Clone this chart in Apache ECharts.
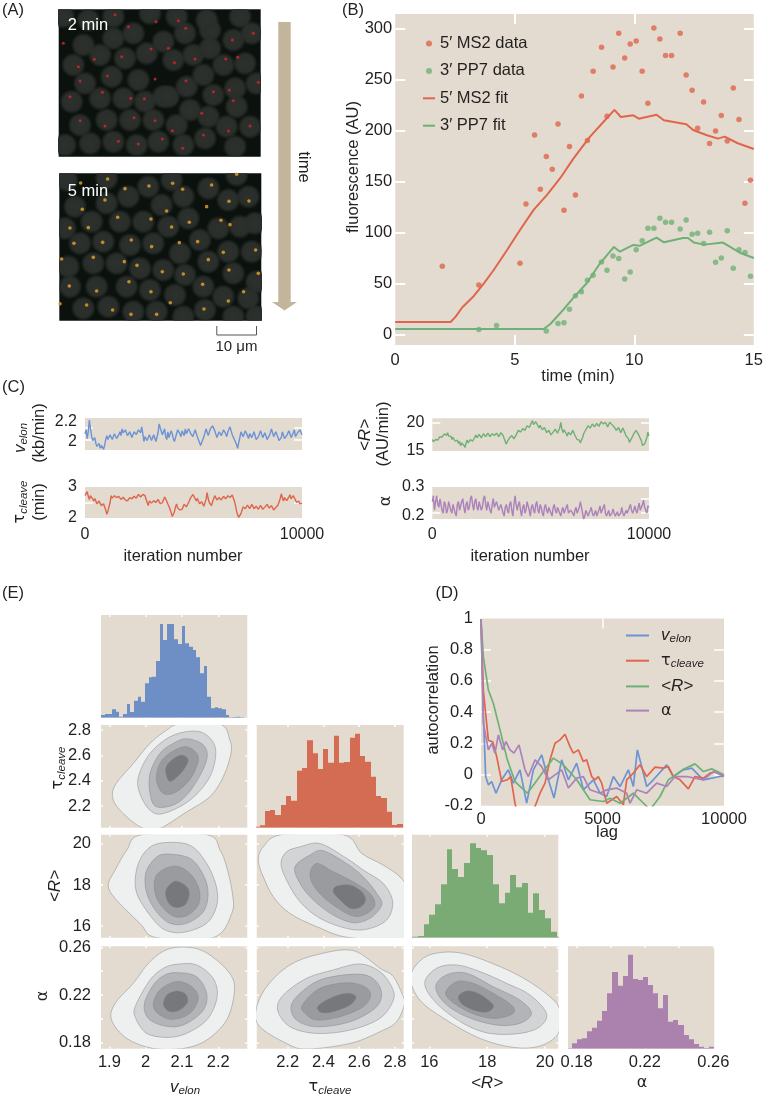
<!DOCTYPE html>
<html><head><meta charset="utf-8">
<script src="https://cdn.jsdelivr.net/npm/echarts@6/dist/echarts.min.js"></script>
<style>html,body{margin:0;padding:0;background:#fff}#c{width:766px;height:1097px}</style>
</head><body><div id="c"></div>
<script>
// ---------- Panel A: micrograph features, in image-position units ----------
const nuclei2min=[[220,195],[250,135],[340,115],[400,100],[300,165],[375,175],[440,160],[490,125],[555,100],[630,90],[720,50],[755,100],[700,120],[630,145],[580,165],[520,180],[670,195],[735,190],[610,225],[560,260],[490,290],[415,240],[335,230],[255,250],[215,305],[300,295],[370,295],[435,305],[505,290],[640,285],[705,265],[710,320],[570,330],[625,350],[530,375],[460,360],[390,360],[320,360],[240,375],[270,430],[195,435],[340,425],[410,435],[475,425],[550,435],[615,415],[680,380],[750,380],[705,440],[620,60],[530,50],[450,40],[340,50],[265,60],[770,250],[190,50]];
const spots2min=[[345,44],[468,65],[535,62],[385,80],[557,85],[760,100],[697,120],[190,130],[505,145],[453,147],[585,177],[523,188],[677,177],[713,172],[235,200],[283,178],[365,170],[322,228],[240,243],[465,237],[558,242],[775,247],[688,270],[640,275],[307,277],[210,290],[392,295],[433,296],[700,302],[605,340],[402,353],[465,362],[240,362],[315,378],[517,392],[487,417],[750,378],[685,393],[548,445],[355,424],[610,405],[415,432]];
const nuclei5min=[[225,620],[320,610],[385,590],[445,560],[515,540],[550,590],[625,565],[685,600],[745,590],[485,615],[275,665],[360,665],[430,665],[505,680],[565,655],[655,685],[720,680],[765,670],[195,685],[240,730],[310,725],[390,735],[460,730],[540,760],[600,720],[685,755],[755,755],[205,800],[280,790],[350,790],[420,805],[490,810],[555,825],[625,785],[700,820],[770,845],[210,860],[290,860],[380,860],[450,870],[525,885],[610,860],[670,890],[745,895],[250,925],[325,920],[400,935],[470,935],[550,950],[615,930],[700,950],[770,950],[320,535],[710,525],[200,540]];
const spots5min=[[242,549],[323,537],[375,566],[447,558],[518,550],[548,568],[635,555],[710,523],[687,604],[747,603],[315,600],[247,628],[500,633],[620,620],[353,652],[453,657],[568,667],[663,661],[690,674],[515,681],[210,684],[265,683],[222,730],[308,727],[394,720],[455,740],[538,728],[593,725],[670,757],[767,750],[185,777],[280,772],[373,785],[411,796],[487,815],[550,822],[625,779],[687,810],[775,820],[208,858],[290,873],[387,845],[453,875],[511,908],[608,853],[731,875],[685,903],[260,915],[338,930],[393,943],[470,943],[612,927],[180,911]];

// ---------- Panel B ----------
const ms2Data=[[1.97,66.7],[3.5,48.4],[5.22,69.6],[5.47,127.8],[5.83,195.4],[6.07,142.2],[6.32,174.2],[6.57,161.8],[6.81,206.2],[7.06,121.6],[7.29,184],[7.54,136.6],[7.79,233.7],[8.04,189.9],[8.28,257.8],[8.63,281.4],[8.86,213.7],[9.11,262.1],[9.35,295.1],[9.6,270.9],[9.83,284.6],[10.08,287.6],[10.33,257.8],[10.57,226.4],[10.82,300.3],[11.07,289.5],[11.31,273.2],[11.56,273.2],[11.92,295.1],[12.17,254.2],[12.42,239.2],[12.65,202],[12.9,227.8],[13.15,187],[13.4,199.3],[13.64,214.4],[13.89,189.5],[14.14,241.5],[14.38,210.5],[14.63,128.4],[14.86,151]];
const pp7Data=[[3.5,4.6],[4.24,8.5],[6.32,3.3],[6.81,10.5],[7.06,11.4],[7.29,24.5],[7.54,37.9],[7.79,41.8],[8.04,52.9],[8.28,57.8],[8.63,70.9],[8.86,62.7],[9.11,76.8],[9.35,74.2],[9.6,54.2],[9.83,61.1],[10.08,83],[10.33,91.8],[10.57,103.9],[10.82,103.9],[11.07,113.7],[11.31,109.8],[11.56,109.8],[11.92,103.3],[12.17,112.1],[12.42,98],[12.65,99],[12.9,88.9],[13.15,100],[13.4,70.6],[13.64,74.8],[13.89,101.6],[14.14,64.7],[14.38,83],[14.63,80.1],[14.86,56.9]];
const ms2Fit=[[0,12],[2.32,12],[2.53,17.3],[2.81,26.5],[3.29,37.6],[3.71,50],[4.12,63],[4.68,82.7],[5.24,103],[5.79,122],[6.35,136.6],[6.9,153],[7.46,172.5],[8.15,193.8],[8.85,211.8],[9.17,220],[9.44,213],[9.96,214.7],[10.19,211.4],[10.93,215.3],[11.24,209.8],[12.18,205.9],[12.46,200.3],[13.01,195.4],[13.5,191.8],[13.78,193.8],[14.33,187.3],[15,181.7]];
const pp7Fit=[[0,5.2],[6.21,5.2],[6.49,10.1],[6.9,20.6],[7.46,36],[8.01,50],[8.57,69.6],[9.15,85.6],[9.4,81],[9.96,87.6],[10.24,86.9],[10.93,94.8],[11.24,90.2],[12.04,94.4],[12.25,94.4],[12.49,89.9],[12.94,87.9],[13.71,89.9],[14.47,79.4],[15,74.8]];

// ---------- Panel C ----------
const traceVelon=[2.08,2.12,2.03,2.1,2.22,2.13,2.06,2.01,2.0,2.04,1.98,1.95,1.95,1.98,1.93,1.96,1.94,1.92,1.96,2.02,
2.06,2.02,2.0,2.07,2.05,2.02,2.03,2.08,2.08,2.03,2.02,2.07,2.1,2.06,2.13,2.09,2.07,2.12,2.1,2.06,
2.05,2.1,2.09,2.04,2.06,2.1,2.11,2.07,2.08,2.12,2.13,2.09,2.15,2.08,2.0,2.05,2.06,2.01,2.02,2.07,
2.06,2.01,2.03,2.07,2.05,2.0,2.01,2.09,2.18,2.14,2.12,2.07,2.09,2.13,2.05,2.02,2.1,2.04,2.06,2.11,
2.08,2.03,2.0,2.04,2.05,2.12,2.14,2.08,2.05,2.11,2.1,2.06,2.13,2.08,2.09,2.13,2.12,2.08,2.1,2.05,
2.07,2.12,2.11,2.05,2.04,1.99,1.96,1.99,2.0,2.05,2.07,2.13,2.14,2.06,2.08,2.13,2.12,2.16,2.17,2.11,
2.1,2.04,2.05,2.1,2.12,2.06,2.07,2.12,2.14,2.08,2.05,2.1,2.1,2.15,2.13,2.07,2.06,2.02,2.0,1.97,
1.93,1.99,2.04,2.1,2.1,2.05,2.06,2.11,2.12,2.06,2.03,2.08,2.09,2.04,2.05,2.1,2.08,2.02,2.01,2.05,
2.06,2.11,2.1,2.04,2.04,2.09,2.08,2.02,2.01,2.06,2.09,2.13,2.12,2.05,2.05,2.1,2.1,2.04,2.01,2.03,
2.04,2.1,2.09,2.03,2.02,2.06,2.05,2.11,2.11,2.04,2.03,2.09,2.12,2.05,2.04,2.09,2.08,2.12,2.1,2.07];
const traceTau=[2.72,2.66,2.85,2.7,2.6,2.72,2.78,2.62,2.55,2.63,2.62,2.46,2.42,2.55,2.52,2.4,2.35,2.46,2.45,2.26,
2.12,2.22,2.2,2.5,2.72,2.64,2.62,2.72,2.76,2.66,2.6,2.7,2.68,2.6,2.58,2.67,2.66,2.58,2.62,2.55,
2.55,2.66,2.68,2.62,2.6,2.7,2.72,2.64,2.62,2.76,2.8,2.68,2.66,2.76,2.78,2.72,2.7,2.5,2.4,2.55,
2.58,2.48,2.45,2.56,2.6,2.5,2.5,2.6,2.62,2.46,2.42,2.5,2.55,2.68,2.72,2.54,2.45,2.38,2.35,2.18,
2.05,2.12,2.2,2.36,2.45,2.32,2.35,2.26,2.2,2.28,2.32,2.44,2.5,2.36,2.38,2.5,2.55,2.66,2.7,2.76,
2.75,2.62,2.55,2.64,2.6,2.46,2.42,2.52,2.5,2.38,2.35,2.6,2.82,2.62,2.5,2.46,2.4,2.52,2.62,2.72,
2.7,2.58,2.55,2.66,2.68,2.58,2.6,2.7,2.72,2.62,2.6,2.72,2.78,2.66,2.62,2.74,2.7,2.55,2.4,2.22,
2.1,2.02,2.03,2.14,2.25,2.36,2.42,2.3,2.3,2.42,2.4,2.3,2.32,2.44,2.42,2.3,2.28,2.38,2.38,2.28,
2.3,2.41,2.4,2.28,2.25,2.36,2.38,2.44,2.42,2.32,2.3,2.4,2.38,2.26,2.25,2.34,2.35,2.42,2.45,2.62,
2.78,2.66,2.55,2.66,2.7,2.56,2.5,2.68,2.75,2.62,2.6,2.72,2.72,2.58,2.5,2.56,2.55,2.46,2.45,2.48];
const traceR=[17,16.6,16.4,17,17.3,16.9,16.8,17.5,17.8,17.4,17.6,18,18.1,17.7,18.2,17.6,17.3,17.6,17,17.4,
17.2,16.7,16.6,16.9,16.3,16.7,15.9,16.4,16.7,16,15.6,16.4,16.9,16.4,16.5,17,17.1,16.7,16.8,17.4,
17.8,17.3,17.4,17.9,17.8,17.3,17.5,18,18,17.5,17.6,18.1,18,17.5,17.3,18,18.3,17.7,17.5,18.1,
18,17.5,17.6,18.2,18.5,17.7,17.2,16.6,16.2,16.7,16.8,17.3,17,17.7,17.6,17.1,17.2,17.8,18.1,18.6,
18.8,18.3,18.2,18.9,19.2,18.6,18.7,19.4,19.6,19.1,19.2,19.9,20.3,19.6,19.4,20.1,20.2,19.4,19,19.5,
19.3,18.7,18.6,19.1,18.9,18.2,18,18.6,18.5,17.8,17.7,18.3,18.2,18.8,18.9,18.1,17.9,19,20,18.9,
18.2,18.7,18.8,18,17.6,18.3,18.5,17.8,17.9,18.6,18.4,17.7,17.4,17,16.7,16.9,16.4,16.9,17.3,18,
18.3,18.7,18.9,19.4,19.5,19,19,19.7,19.9,19.2,19.1,19.8,20,19.3,19.4,20.1,20.4,19.7,19.6,20,
19.8,19.2,19.3,20,20.2,19.6,19.7,19.2,19.4,18.6,18.5,19.1,19,18.2,18.3,19,18.9,18.1,17.6,17.4,
17.2,16.5,16.3,17.2,17.5,18,18.1,18.6,18.7,18,17.9,17.2,16.8,16,15.8,16.2,16.4,17.3,18.3,17.6];
const traceAlpha=[.25,.27,.22,.25,.27,.24,.23,.26,.26,.22,.21,.25,.24,.21,.22,.25,.25,.22,.21,.24,
.24,.21,.2,.24,.25,.22,.22,.25,.26,.23,.21,.24,.25,.22,.23,.26,.27,.24,.22,.25,
.26,.23,.22,.25,.25,.22,.23,.26,.27,.24,.22,.25,.25,.22,.21,.24,.26,.23,.23,.25,
.25,.22,.22,.24,.24,.21,.2,.23,.24,.22,.21,.24,.25,.22,.2,.24,.27,.24,.22,.24,
.25,.22,.2,.23,.24,.21,.22,.25,.25,.22,.2,.23,.24,.22,.21,.24,.25,.22,.21,.24,
.23,.21,.2,.23,.24,.22,.21,.23,.23,.21,.2,.23,.24,.22,.21,.23,.235,.21,.2,.22,
.23,.21,.21,.23,.24,.21,.205,.22,.225,.21,.2,.22,.23,.21,.205,.23,.25,.23,.21,.19,
.2,.22,.225,.2,.195,.22,.23,.21,.2,.21,.22,.2,.195,.22,.235,.21,.205,.23,.24,.21,
.2,.21,.22,.2,.195,.21,.225,.21,.2,.2,.215,.2,.195,.21,.23,.21,.2,.21,.22,.21,
.205,.23,.24,.22,.21,.22,.235,.22,.21,.23,.245,.22,.215,.24,.255,.23,.22,.21,.235,.23];
const traceStep=50.25;

// ---------- Panel D ----------
const acfVelon=[[0,.995],[96,.393],[192,-.013],[302,-.066],[439,-.045],[617,-.12],[851,-.034],[1125,.03],[1331,-.055],[1605,.03],[1880,-.184],[2154,.03],[2497,.126],[2771,-.034],[3005,-.15],[3320,.094],[3595,-.034],[3938,.073],[4212,-.098],[4624,-.034],[4898,-.12],[5172,-.141],[5447,-.013],[5721,-.077],[6064,.03],[6270,-.077],[6435,.158],[6613,.051],[6819,-.077],[7093,-.034],[7642,.062],[7916,-.013],[8328,.03],[8671,.041],[9151,-.034],[9837,-.013],[10000,-.01]];
const acfTau=[[0,.995],[96,.54],[302,.22],[480,.21],[645,.115],[851,-.045],[1084,-.034],[1221,-.013],[1399,-.184],[1605,-.33],[2223,-.205],[2428,-.12],[2634,-.055],[2840,.094],[3046,.2],[3252,.222],[3457,.258],[3663,.179],[3800,.137],[4006,.158],[4212,.083],[4349,.094],[4555,-.013],[4692,-.034],[4829,-.013],[4967,-.055],[5172,-.184],[5584,-.141],[5858,-.194],[5996,-.034],[6270,.009],[6544,.062],[6819,-.013],[7162,.047],[7505,.041],[7711,.051],[7916,-.013],[8191,-.034],[8534,-.092],[8808,-.013],[9151,-.023],[9426,.009],[9700,.019],[10000,-.013]];
const acfR=[[0,.995],[96,.756],[302,.542],[508,.457],[782,.286],[1084,.094],[1399,-.045],[1907,-.12],[2223,-.055],[2565,.019],[2977,.105],[3389,.062],[3938,-.034],[4212,-.098],[4486,-.162],[5035,-.173],[5310,-.152],[5721,-.184],[6270,-.12],[6544,-.162],[6956,-.226],[7368,-.141],[7711,-.034],[7916,-.013],[8328,.034],[8808,.068],[9151,.019],[9494,.036],[10000,-.002]];
const acfAlpha=[[0,.995],[96,.329],[302,.158],[439,.2],[576,.137],[713,.254],[892,.158],[1029,.211],[1194,.158],[1358,.137],[1564,.19],[1811,.03],[1948,-.013],[2223,.094],[2497,.051],[2771,-.034],[3046,-.002],[3320,.03],[3595,-.087],[3938,-.023],[4212,-.013],[4486,-.098],[4898,-.12],[5172,-.098],[5584,-.087],[5996,-.12],[6133,-.184],[6407,-.098],[6819,-.12],[7230,-.055],[7642,-.077],[7985,-.013],[8465,-.013],[9151,-.034],[9563,.019],[10000,-.013]];

// ---------- Panel E histograms ----------
const histVelon=[8,11,11,25,18,3,11,41,17,51,63,48,103,121,123,170,281,233,281,281,235,221,275,223,213,203,181,133,155,63,28,31,28,25,8,1,2,3,1,0];
const histTau=[3,7,50,53,38,68,95,81,171,179,262,223,176,236,195,276,195,197,270,282,215,198,153,95,89,48,8,11];
const histR=[3,5,40,69,100,160,265,206,182,224,283,269,262,248,160,103,135,188,151,164,75,133,83,58,18,3];
const histAlpha=[1,16,28,31,52,63,84,113,166,230,189,218,282,209,206,215,191,166,121,161,81,86,71,41,28,14,6,2,6];
const binVelon={start:1.877,width:.0101}, binTau={start:2.0137,width:.0296}, binR={start:15.4,width:.2}, binAlpha={start:.1743,width:.00297};

// ---------- Panel E contours (outer to inner, data units) ----------
const contourTauVelon=[
[[2.094,2.847],[2.205,2.847],[2.232,2.721],[2.235,2.616],[2.214,2.432],[2.177,2.274],[2.113,2.155],[2.039,2.024],[1.994,2.024],[1.943,2.129],[1.911,2.247],[1.916,2.366],[1.966,2.537],[2.012,2.695],[2.058,2.8]],
[[2.127,2.792],[2.168,2.761],[2.193,2.642],[2.177,2.432],[2.122,2.247],[2.049,2.142],[2.012,2.168],[1.984,2.3],[1.98,2.432],[2.012,2.616],[2.067,2.747]],
[[2.113,2.732],[2.159,2.682],[2.168,2.563],[2.131,2.353],[2.085,2.221],[2.03,2.195],[2.012,2.3],[2.012,2.458],[2.039,2.616],[2.076,2.695]],
[[2.113,2.668],[2.145,2.589],[2.127,2.432],[2.085,2.313],[2.049,2.3],[2.03,2.405],[2.039,2.537],[2.072,2.629]],
[[2.099,2.603],[2.117,2.563],[2.104,2.484],[2.076,2.405],[2.062,2.405],[2.055,2.497],[2.072,2.563]]];
const contourRVelon=[
[[1.989,20.45],[2.168,20.45],[2.205,19.7],[2.223,18.89],[2.239,17.6],[2.237,16.62],[2.186,15.44],[2.03,15.44],[1.984,16.14],[1.916,17.35],[1.897,18],[1.916,18.73],[1.948,19.7]],
[[2.049,20.06],[2.122,19.94],[2.168,19.05],[2.195,17.92],[2.195,16.95],[2.168,16.14],[2.113,15.73],[2.067,15.73],[2.03,16.14],[1.984,17.27],[1.971,18.08],[1.98,19.05],[2.007,19.78]],
[[2.058,19.51],[2.122,19.3],[2.159,18.49],[2.172,17.6],[2.159,16.7],[2.113,16.14],[2.067,16.14],[2.03,16.7],[2.003,17.6],[2,18.57],[2.026,19.3]],
[[2.076,18.92],[2.117,18.65],[2.145,17.92],[2.147,17.11],[2.117,16.54],[2.081,16.46],[2.049,16.87],[2.026,17.6],[2.03,18.49]],
[[2.081,18.19],[2.113,17.92],[2.12,17.51],[2.108,17.03],[2.081,16.91],[2.061,17.19],[2.056,17.76]]];
const contourRTau=[
[[2.166,20.45],[2.511,20.45],[2.614,19.54],[2.735,18.97],[2.837,18.32],[2.88,17.43],[2.88,15.44],[2.549,15.44],[2.362,15.98],[2.213,16.62],[2.12,17.43],[2.064,18.4],[2.036,19.21],[2.064,19.86]],
[[2.269,19.86],[2.381,20.02],[2.53,19.3],[2.623,18.73],[2.735,18.08],[2.787,17.19],[2.754,16.3],[2.642,15.85],[2.53,15.89],[2.381,16.38],[2.269,17.19],[2.194,18.24],[2.163,19.05],[2.194,19.62]],
[[2.325,19.46],[2.399,19.67],[2.53,19.05],[2.623,18.4],[2.698,17.6],[2.726,17.03],[2.66,16.38],[2.567,16.17],[2.455,16.54],[2.344,17.27],[2.269,18.08],[2.241,18.89]],
[[2.362,19.05],[2.455,18.65],[2.567,18.16],[2.66,17.6],[2.688,17.03],[2.642,16.62],[2.567,16.49],[2.455,17.03],[2.362,17.76],[2.325,18.49]],
[[2.474,17.95],[2.549,18],[2.614,17.68],[2.636,17.27],[2.604,16.91],[2.549,16.87],[2.493,17.27],[2.455,17.68]]];
const contourAlphaVelon=[
[[2.067,.2589],[2.14,.2589],[2.195,.2494],[2.237,.2354],[2.244,.2214],[2.223,.199],[2.168,.1822],[2.104,.1752],[2.021,.1752],[1.948,.1836],[1.906,.199],[1.916,.213],[1.966,.2298],[2.012,.248]],
[[2.085,.2457],[2.14,.2452],[2.186,.234],[2.197,.2186],[2.172,.2004],[2.122,.1892],[2.067,.1845],[2.003,.1878],[1.971,.2018],[1.973,.2116],[2.012,.2326],[2.049,.2424]],
[[2.09,.2387],[2.14,.2354],[2.168,.2214],[2.159,.2074],[2.113,.1962],[2.067,.1934],[2.012,.199],[1.996,.2116],[2.021,.2284],[2.053,.2368]],
[[2.085,.2312],[2.127,.227],[2.145,.2172],[2.122,.2046],[2.076,.1996],[2.039,.2032],[2.021,.2116],[2.039,.2242]],
[[2.085,.2234],[2.108,.2214],[2.116,.2144],[2.094,.2074],[2.067,.206],[2.049,.2116],[2.058,.22]]];
const contourAlphaTau=[
[[2.716,.2424],[2.791,.2354],[2.847,.2186],[2.856,.213],[2.809,.1976],[2.716,.1892],[2.549,.1794],[2.306,.1747],[2.194,.1794],[2.045,.1934],[2.023,.2074],[2.083,.227],[2.213,.2452],[2.381,.2544],[2.567,.2572]],
[[2.455,.241],[2.604,.246],[2.716,.2396],[2.782,.227],[2.791,.2158],[2.716,.2004],[2.549,.1906],[2.362,.1878],[2.213,.1934],[2.144,.2074],[2.176,.22],[2.306,.234]],
[[2.381,.2326],[2.549,.2373],[2.66,.2354],[2.722,.2242],[2.698,.2102],[2.549,.1976],[2.362,.1934],[2.25,.199],[2.219,.2102],[2.269,.2214]],
[[2.381,.2256],[2.53,.2303],[2.632,.227],[2.664,.22],[2.623,.2102],[2.493,.2018],[2.362,.199],[2.297,.2046],[2.282,.2116]],
[[2.437,.2172],[2.53,.2214],[2.582,.2186],[2.549,.2116],[2.455,.206],[2.39,.2052],[2.368,.2102]]];
const contourAlphaR=[
[[15.35,.2354],[15.79,.2508],[16.48,.2558],[17.29,.2541],[18.44,.2438],[19.36,.2326],[20.17,.2186],[20.51,.2074],[20.46,.1878],[19.82,.1772],[18.9,.1761],[17.75,.1836],[16.59,.199],[15.67,.2158]],
[[15.84,.2298],[16.25,.2424],[16.94,.2452],[17.75,.2396],[18.67,.2298],[19.48,.22],[20.05,.2046],[19.82,.1934],[19.13,.1878],[18.09,.1878],[17.17,.1962],[16.25,.213]],
[[16.22,.227],[16.59,.2368],[17.29,.2382],[18.21,.227],[19.13,.2158],[19.53,.2046],[19.13,.1962],[18.32,.1948],[17.29,.2018],[16.54,.213]],
[[16.56,.2214],[16.94,.2312],[17.52,.2298],[18.21,.2214],[18.84,.2116],[18.9,.2046],[18.32,.2004],[17.63,.2032],[16.94,.2116]],
[[17,.2186],[17.29,.2234],[17.75,.2206],[18.21,.2116],[18.03,.206],[17.63,.2066],[17.17,.2116]]];

// ---------- Styling ----------
const FONT='"Liberation Sans",Arial,sans-serif';
const BG='#e3dbcf', TXT='#231f20', FS=16.5;
const RED='#e0654c', GREEN='#6fb077', BLUE='#6b93d6', PURPLE='#ab82ba';
const levelFill=['#eef0f0','#d3d4d6','#b3b4b7','#9a9b9e','#77787b'];

const grids=[],xAxes=[],yAxes=[],series=[];
function panel(o){
  const g=grids.length;
  grids.push({left:o.x0,top:o.y0,width:o.x1-o.x0,height:o.y1-o.y0,show:true,backgroundColor:o.bg||BG,borderWidth:0});
  const xi=xAxes.length, yi=yAxes.length;
  const base={type:'value',gridIndex:g,axisLine:{show:false,onZero:false},splitLine:{show:false},z:1,silent:true};
  const tick=(vals,len,w)=>vals&&vals.length?{show:true,inside:true,length:len,customValues:vals,lineStyle:{color:'#fff',width:w}}:{show:false};
  const lab=(vals,margin)=>vals?{show:true,customValues:vals,margin:margin,hideOverlap:false,color:TXT,fontFamily:FONT,fontSize:o.fs||FS,formatter:v=>String(v)}:{show:false};
  const xb={...base,min:o.xMin,max:o.xMax,axisTick:tick(o.xTicks,o.tl||8,o.tw||1.5),axisLabel:lab(o.xLabels,o.xm==null?5:o.xm)};
  const xBase={...base,min:o.xMin,max:o.xMax};
  const yBase={...base,min:o.yMin,max:o.yMax,inverse:!!o.yInv};
  xAxes.push({...xb,position:'bottom'},{...xBase,position:'top',axisTick:tick(o.xTicksTop||o.xTicks,o.tl||8,o.tw||1.5),axisLabel:{show:false}});
  yAxes.push({...yBase,position:'left',axisTick:tick(o.yTicks,o.tl||8,o.tw||1.5),axisLabel:lab(o.yLabels,o.ym==null?8:o.ym)},
             {...yBase,position:'right',axisTick:tick(o.yTicks,o.tl||8,o.tw||1.5),axisLabel:{show:false}});
  if(o.hidden){[xAxes[xi],xAxes[xi+1]].forEach(a=>a.show=false);[yAxes[yi],yAxes[yi+1]].forEach(a=>a.show=false);}
  return {xAxisIndex:xi,yAxisIndex:yi};
}
function histogram(ref,counts,bin,color,name){
  series.push({type:'custom',name,...ref,clip:true,silent:true,encode:{x:[0,1],y:2},
    data:counts.map((c,i)=>[bin.start+i*bin.width,bin.start+(i+1)*bin.width,c]),
    renderItem(p,api){
      const a=api.coord([api.value(0),api.value(2)]),b=api.coord([api.value(1),0]);
      const x0=Math.round(a[0]),x1=Math.round(b[0]);
      return {type:'rect',shape:{x:x0,y:a[1],width:x1-x0,height:b[1]-a[1]},style:{fill:color}};
    }});
}
// closed smooth outline through the read contour points
function closedSpline(P){
  const n=P.length,f=v=>v.toFixed(2);
  let s='M'+f(P[0][0])+' '+f(P[0][1]);
  for(let i=0;i<n;i++){
    const a=P[(i-1+n)%n],b=P[i],c=P[(i+1)%n],d=P[(i+2)%n];
    s+='C'+f(b[0]+(c[0]-a[0])/6)+' '+f(b[1]+(c[1]-a[1])/6)+' '+f(c[0]-(d[0]-b[0])/6)+' '+f(c[1]-(d[1]-b[1])/6)+' '+f(c[0])+' '+f(c[1]);
  }
  return s+'Z';
}
function contours(ref,levels,name){
  series.push({type:'custom',name,...ref,clip:true,silent:true,encode:{x:0,y:1},
    data:levels.map((l,i)=>[l[0][0],l[0][1],i]),
    renderItem(p,api){
      const i=p.dataIndex;
      return {type:'path',shape:{pathData:closedSpline(levels[i].map(q=>api.coord(q)))},
        style:{fill:levelFill[i],stroke:'#85868a',lineWidth:.5}};
    }});
}
function nuclei(ref,pts,name){
  const fill=new echarts.graphic.RadialGradient(.5,.5,.5,[{offset:0,color:'#2d312e'},{offset:.7,color:'#2a2e2b'},{offset:1,color:'rgba(42,46,43,0)'}]);
  series.push({type:'custom',name,...ref,clip:true,silent:true,encode:{x:0,y:1},data:pts,
    renderItem(p,api){
      const c=api.coord([api.value(0),api.value(1)]);
      return {type:'circle',shape:{cx:c[0],cy:c[1],r:12.5},style:{fill}};
    }});
}
function lineS(ref,name,data,color,w){
  series.push({type:'line',name,...ref,data,showSymbol:false,symbol:'none',silent:true,clip:true,
    lineStyle:{color,width:w},itemStyle:{color}});
}

// Panel A
const imgA=panel({x0:58.7,x1:260.7,y0:9.3,y1:156.7,bg:'#0b120e',xMin:176,xMax:782,yMin:28,yMax:470,yInv:true,hidden:true});
const imgB=panel({x0:59.3,x1:261.3,y0:173.3,y1:320.7,bg:'#0b120e',xMin:178,xMax:784,yMin:520,yMax:962,yInv:true,hidden:true});
nuclei(imgA,nuclei2min,'nuclei 2 min');
series.push({type:'scatter',name:'spots 2 min',...imgA,data:spots2min,symbolSize:3,itemStyle:{color:'#d8262a'},silent:true,clip:true});
nuclei(imgB,nuclei5min,'nuclei 5 min');
series.push({type:'scatter',name:'spots 5 min',...imgB,data:spots5min,symbolSize:3.6,itemStyle:{color:'#e8a42a'},silent:true,clip:true});

// Panel B
const b=panel({x0:395.2,x1:753.8,y0:14,y1:345,xMin:0,xMax:15,yMin:-10.5,yMax:314,xTicks:[5,10],xLabels:[0,5,10,15],yTicks:[0,50,100,150,200,250,300],yLabels:[0,50,100,150,200,250,300],tl:10,tw:2,ym:3,xm:7});
series.push({type:'scatter',name:'5′ MS2 data',...b,data:ms2Data,symbolSize:5.5,itemStyle:{color:RED},silent:true});
series.push({type:'scatter',name:'3′ PP7 data',...b,data:pp7Data,symbolSize:5.5,itemStyle:{color:GREEN},silent:true});
lineS(b,'5′ MS2 fit',ms2Fit,RED,2);
lineS(b,'3′ PP7 fit',pp7Fit,GREEN,2);

// Panel C
const iters=traceVelon.map((_,i)=>i*traceStep);
const pair=v=>v.map((y,i)=>[iters[i],y]);
const c1=panel({x0:85,x1:302,y0:418,y1:450,xMin:0,xMax:10000,yMin:1.913,yMax:2.241,yTicks:[2.016,2.142],yLabels:[2,2.2],fs:16});
lineS(c1,'v elon trace',pair(traceVelon),BLUE,1.4);
const c2=panel({x0:85,x1:302,y0:487,y1:518,xMin:0,xMax:10000,yMin:2,yMax:3,yTicks:[2.5],yLabels:[2,3],xLabels:[0,10000],xm:9,fs:16});
lineS(c2,'τ cleave trace',pair(traceTau),RED,1.4);
const c3=panel({x0:432.3,x1:649,y0:418.3,y1:451,xMin:0,xMax:10000,yMin:15,yMax:20.7,yTicks:[20],yLabels:[15,20],fs:16});
lineS(c3,'<R> trace',pair(traceR),GREEN,1.4);
const c4=panel({x0:432.3,x1:649,y0:487,y1:519,xMin:0,xMax:10000,yMin:.19,yMax:.3,yTicks:[.2126,.258],yLabels:[.2,.3],xLabels:[0,10000],xm:8,fs:16});
lineS(c4,'α trace',pair(traceAlpha),PURPLE,1.4);

// Panel D
const d=panel({x0:481,x1:724,y0:618.5,y1:805.7,xMin:0,xMax:10000,yMin:-.2,yMax:1,xTicksTop:[5000],xTicks:[],xLabels:[0,5000,10000],yTicks:[0,.2,.4,.6,.8],yLabels:[-0.2,0,.2,.4,.6,.8,1],tl:10,tw:1.5,xm:5});
lineS(d,'v elon',acfVelon,BLUE,1.7);
lineS(d,'τ cleave',acfTau,RED,1.7);
lineS(d,'<R>',acfR,GREEN,1.7);
lineS(d,'α',acfAlpha,PURPLE,1.7);

// Panel E
const cols=[[101,247.3],[256.7,403.7],[412,558.3],[568,714.3]];
const rows=[[615,717.7],[725,827.7],[834.7,937.7],[946.3,1048.7]];
const xDom=[[1.877,2.28],[2.027,2.849],[15.4,20.46],[.175,.2606]];
const yDom=[null,[2.03,2.84],[15.44,20.45],[.175,.2608]];
const xTk=[[1.9,2,2.1,2.2],[2.2,2.4,2.6,2.8],[16,18,20],[.18,.2,.22,.24,.26]];
const yTk=[null,[2.2,2.4,2.6,2.8],[16,18,20],[.18,.2,.22,.24,.26]];
const xLb=[[1.9,2,2.1,2.2],[2.2,2.4,2.6,2.8],[16,18,20],[.18,.22,.26]];
const yLb=[null,[2.2,2.4,2.6,2.8],[16,18,20],[.18,.22,.26]];
const E=(r,c,top)=>panel({x0:cols[c][0],x1:cols[c][1],y0:rows[r][0],y1:rows[r][1],xMin:xDom[c][0],xMax:xDom[c][1],yMin:top?0:yDom[r][0],yMax:top?top:yDom[r][1],
  xTicks:xTk[c],yTicks:top?[]:yTk[r],xLabels:r===3?xLb[c]:null,yLabels:(!top&&c===0)?yLb[r]:null,tl:2,tw:1.5,ym:10,xm:5});
// diagonal
histogram(E(0,0,308),histVelon,binVelon,'#6e8fc6','hist v elon');
histogram(E(1,1,308),histTau,binTau,'#d46b53','hist τ cleave');
histogram(E(2,2,309),histR,binR,'#7aab74','hist <R>');
histogram(E(3,3,307),histAlpha,binAlpha,'#aa82ad','hist α');
// lower triangle
contours(E(1,0),contourTauVelon,'τ vs v');
contours(E(2,0),contourRVelon,'R vs v');
contours(E(2,1),contourRTau,'R vs τ');
contours(E(3,0),contourAlphaVelon,'α vs v');
contours(E(3,1),contourAlphaTau,'α vs τ');
contours(E(3,2),contourAlphaR,'α vs R');

// Text & decorations
const richSub={i:{fontFamily:FONT,fontSize:17,fontStyle:'italic',fill:TXT,color:TXT},s:{fontFamily:FONT,fontSize:11.5,fontStyle:'italic',fill:TXT,color:TXT,verticalAlign:'bottom',padding:[7,0,0,0]},g:{fontFamily:'"DejaVu Sans"',fontSize:16,fill:TXT,color:TXT}};
const txt=(x,y,text,o={})=>({type:'text',x,y,rotation:o.rot||0,silent:true,z:20,style:{text,fontFamily:FONT,fontSize:o.fs||FS,fill:o.fill||TXT,align:o.align||'center',verticalAlign:'middle',rich:o.rich}});
const R90=Math.PI/2;
const graphicEls=[
 txt(2,10,'(A)',{align:'left'}),txt(342,10,'(B)',{align:'left'}),txt(2,387,'(C)',{align:'left'}),txt(447,593,'(D)'),txt(2,593,'(E)',{align:'left'}),
 txt(88,25,'2 min',{fill:'#fff'}),txt(88,191,'5 min',{fill:'#fff'}),
 {type:'rect',silent:true,shape:{x:278.3,y:22,width:12.4,height:280},style:{fill:'#c2b59b'}},
 {type:'polygon',silent:true,shape:{points:[[272,302],[297,302],[284.5,310.5]]},style:{fill:'#c2b59b'}},
 txt(303.5,167,'time',{rot:-R90}),
 {type:'polyline',silent:true,shape:{points:[[216.8,326],[216.8,335],[256.5,335],[256.5,326]]},style:{stroke:'#555',lineWidth:1,fill:'none'}},
 txt(236.5,347,'10 μm',{fs:15}),
 txt(353,167,'fluorescence (AU)',{rot:R90}),txt(578,376,'time (min)'),
 txt(20,438,'{i|v}{s|elon}',{rot:R90,rich:richSub}),txt(39,433,'(kb/min)',{rot:R90}),
 txt(20,502,'{g|τ}{s|cleave}',{rot:R90,rich:richSub}),txt(39,502,'(min)',{rot:R90}),
 txt(365,435,'{i|<R>}',{rot:R90,rich:richSub}),txt(383,434,'(AU/min)',{rot:R90}),
 txt(386,501,'{g|α}',{rot:R90,rich:richSub}),
 txt(183,556.7,'iteration number'),txt(530,556.7,'iteration number'),
 txt(433,700,'autocorrelation',{rot:R90}),txt(607,832,'lag'),
 txt(185,1087,'{i|v}{s|elon}',{rich:richSub}),txt(330,1087,'{g|τ}{s|cleave}',{rich:richSub}),txt(487,1083,'{i|<R>}',{rich:richSub}),txt(642,1083,'{g|α}',{rich:richSub}),
 txt(58,768,'{g|τ}{s|cleave}',{rot:R90,rich:richSub}),txt(55,886,'{i|<R>}',{rot:R90,rich:richSub}),txt(43,996,'{g|α}',{rot:R90,rich:richSub})
];
const dLegendText={'v elon':'{i|v}{s|elon}','τ cleave':'{g|τ}{s|cleave}','<R>':'{i|<R>}','α':'{g|α}'};
const noDot=n=>({name:n,itemStyle:{opacity:0}});

const chart=echarts.init(document.getElementById('c'),null,{renderer:'canvas'});
chart.setOption({
  animation:false,backgroundColor:'#fff',textStyle:{fontFamily:FONT},
  grid:grids,xAxis:xAxes,yAxis:yAxes,series,
  legend:[
   {data:['5′ MS2 data','3′ PP7 data',noDot('5′ MS2 fit'),noDot('3′ PP7 fit')],orient:'vertical',left:422,top:35,padding:0,itemWidth:12,itemHeight:6,itemGap:10.4,selectedMode:false,
    textStyle:{fontFamily:FONT,fontSize:FS,color:TXT}},
   {data:[noDot('v elon'),noDot('τ cleave'),noDot('<R>'),noDot('α')],orient:'vertical',left:625,top:627,padding:0,itemWidth:23,itemHeight:6,itemGap:7.7,selectedMode:false,
    formatter:n=>dLegendText[n],
    textStyle:{fontFamily:FONT,fontSize:FS,color:TXT,padding:[0,0,0,7],rich:richSub}}
  ],
  graphic:{elements:graphicEls}
});
</script></body></html>
